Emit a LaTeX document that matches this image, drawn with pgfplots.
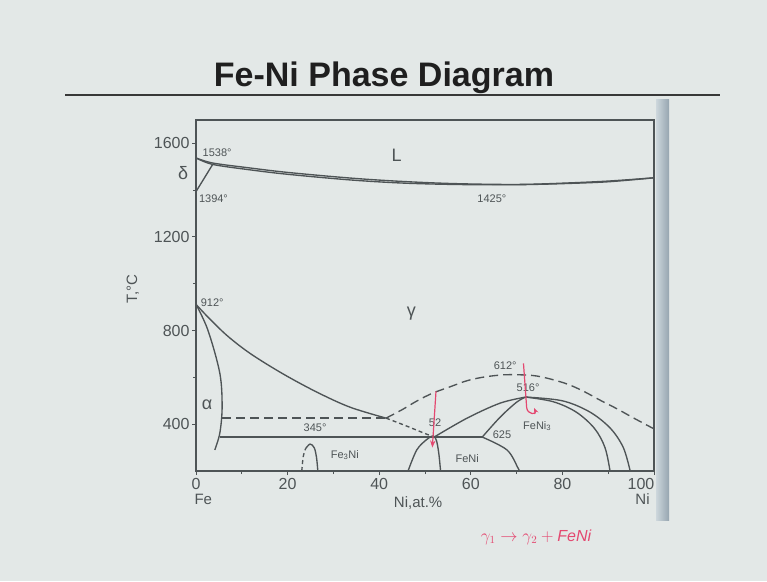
\documentclass[border=0pt]{standalone}
\usepackage{fontspec}
\setmainfont{Liberation Sans}
\usepackage{pgfplots}
\pgfplotsset{compat=1.18}
\usetikzlibrary{arrows.meta}

\definecolor{slide}{RGB}{227,232,231}
\definecolor{ink}{RGB}{78,84,86}
\definecolor{pen}{RGB}{228,72,112}
\definecolor{barlight}{RGB}{205,215,220}
\definecolor{bardark}{RGB}{150,165,176}

\pgfplotsset{
  phase/.style={ink, line width=1.35pt, smooth, tension=0.55, mark=none},
  metastable/.style={phase, dash pattern=on 9pt off 5pt},
  fine/.style={phase, dash pattern=on 4pt off 3pt},
}
\tikzset{
  lab/.style={font=\fontsize{11}{11}\selectfont, text=ink, inner sep=1pt},
  region/.style={font=\fontsize{18}{18}\selectfont, text=ink, inner sep=0pt},
  axcaption/.style={font=\fontsize{15}{15}\selectfont, text=ink},
}

\begin{document}
\begin{tikzpicture}[x=1pt,y=1pt]
\useasboundingbox (0,0) rectangle (767,581);
\fill[slide] (0,0) rectangle (767,581);

% slide heading and rule
\node[anchor=base, font=\bfseries\fontsize{34}{34}\selectfont, text=black!88] at (384,494) {Fe-Ni Phase Diagram};
\draw[black!78, line width=2.6pt] (65,486) -- (720,486);

% frame shadow at the right edge
\shade[left color=barlight, right color=bardark] (656,61) rectangle (669,481);

\begin{axis}[
  at={(196pt,110pt)}, anchor=south west,
  scale only axis, width=458pt, height=351pt,
  xmin=0, xmax=100, ymin=200, ymax=1700,
  xtick={0,20,40,60,80,100}, ytick={400,800,1200,1600},
  xticklabels={0,20,40,60,80,{\hspace*{-26pt}100}},
  minor xtick={10,30,50,70,90}, minor ytick={600,1000,1400},
  tick pos=left, tick align=outside,
  major tick length=4pt, minor tick length=3pt,
  tick style={ink, line width=1pt},
  axis line style={ink, line width=1.3pt},
  ticklabel style={font=\fontsize{16}{16}\selectfont, text=ink},
  /pgf/number format/assume math mode=true,
  /pgf/number format/set thousands separator={},
  yticklabel style={xshift=1pt},
  clip=false,
]

% liquidus and solidus
\addplot[phase] coordinates {(0,1538) (3.7,1516) (11.8,1495) (20,1476) (33.6,1452) (44.5,1438) (55,1429) (65,1425) (72,1425) (80,1430) (90,1439) (100,1453)};
\addplot[phase] coordinates {(0,1538) (3.7,1510) (11.8,1487) (20,1468) (33.6,1444) (44.5,1431) (55,1425) (65,1423) (72,1424) (80,1428) (90,1436) (100,1453)};
% delta loop
\addplot[phase, sharp plot] coordinates {(0,1394) (3.7,1512)};

% gamma / (alpha+gamma) boundary
\addplot[phase] coordinates {(0,912) (3,850) (7,775) (12,700) (19,615) (26.4,537) (33.6,473) (41.5,426)};
% alpha / (alpha+gamma) boundary
\addplot[phase] coordinates {(0,912) (2.6,802) (5.2,618) (5.7,473) (5.2,362) (4.1,290)};

% metastable lines
\addplot[metastable, sharp plot] coordinates {(5.7,426) (41.5,426)};
\addplot[metastable] coordinates {(41.5,426) (45,462) (48.3,500) (51.7,533) (55.5,560) (59.2,586) (63,602) (67,611) (69,612) (73.6,608) (77,595) (81,572) (84.5,542) (88.2,503) (92,465) (95.4,428) (100,380)};
\addplot[fine] coordinates {(41.5,426) (46,392) (49,368) (52,345)};

% eutectoid at 345 C
\addplot[phase, sharp plot] coordinates {(5.2,345) (62.5,345)};

% FeNi3 ordering
\addplot[phase] coordinates {(52,345) (59.2,426) (66.4,490) (72,516)};
\addplot[phase] coordinates {(62.5,345) (66.4,430) (70,494) (72,516)};
\addplot[phase] coordinates {(72,516) (78,496) (83,452) (87,382) (89.3,300) (90.4,200)};
\addplot[phase] coordinates {(72,516) (80,500) (86,452) (90.5,382) (93.3,300) (94.8,200)};
% FeNi field
\addplot[phase] coordinates {(62.5,345) (67.9,290) (70.3,213) (70.6,200)};
\addplot[phase] coordinates {(46.3,200) (48.2,290) (50.4,335) (51.8,350) (52.5,330) (53,277) (53.4,200)};

% Fe3Ni
\addplot[fine] coordinates {(23.1,200) (23.4,260) (23.9,295)};
\addplot[phase] coordinates {(23.9,295) (24.9,315) (25.8,300) (26.3,260) (26.6,200)};

% labels
\node[region] at (43.8,1549) {L};
\node[region] at (-2.8,1472) {δ};
\node[region] at (47,874) {γ};
\node[region] at (2.4,482) {α};
\node[lab, anchor=west] at (1.2,1562) {1538°};
\node[lab, anchor=west] at (0.4,1365) {1394°};
\node[lab] at (64.6,1365) {1425°};
\node[lab, anchor=west] at (0.8,921) {912°};
\node[lab] at (26,383) {345°};
\node[lab] at (32.5,268) {Fe\textsubscript{3}Ni};
\node[lab] at (52.2,405) {52};
\node[lab] at (66.8,354) {625};
\node[lab] at (59.2,255) {FeNi};
\node[lab] at (74.5,392) {FeNi\textsubscript{3}};
\node[lab] at (72.5,558) {516°};
\node[lab] at (67.5,648) {612°};

% axis captions
\node[axcaption] at (1.6,78) {Fe};
\node[axcaption] at (97.5,78) {Ni};
\node[axcaption] at (48.5,65) {Ni,at.\%};
\node[axcaption, rotate=90] at (-13.8,977) {T,°C};

% handwritten notes
\draw[pen, line width=1.2pt, -{Stealth[length=7pt]}] (52.4,540) -- (51.6,300);
\draw[pen, line width=1.2pt, -{Stealth[length=6pt]}] (71.5,660) -- (72.2,470) .. controls (72.4,440) and (74.5,440) .. (73.8,470);
\end{axis}

\node[text=pen, font=\itshape\fontsize{16}{16}\selectfont] at (536,44) {$\gamma_1 \rightarrow \gamma_2 +{}$FeNi};
\end{tikzpicture}
\end{document}
